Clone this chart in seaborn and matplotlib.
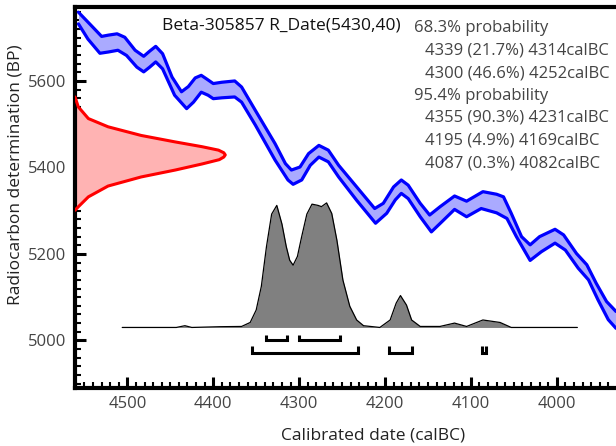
import numpy as np
import pandas as pd
import matplotlib
matplotlib.use("Agg")
import matplotlib.pyplot as plt
from matplotlib.ticker import MultipleLocator
import seaborn as sns

# ---------------- data ----------------
# calibration curve band: upper edge
upper_year = [4557, 4542, 4530, 4522, 4512, 4503, 4491, 4481, 4474, 4467, 4459,
              4448, 4437, 4429, 4421, 4414, 4408, 4400, 4390, 4375, 4367, 4351,
              4328, 4316, 4309, 4299, 4289, 4277, 4266, 4254, 4233, 4212, 4202,
              4190, 4181, 4173, 4159, 4148, 4136, 4119, 4105, 4086, 4070, 4062,
              4053, 4041, 4031, 4020, 4002, 3992, 3977, 3965, 3954, 3942, 3931]
upper_bp = [5759, 5728, 5703, 5706, 5709, 5701, 5671, 5657, 5669, 5680, 5663,
            5609, 5575, 5587, 5607, 5613, 5605, 5594, 5597, 5600, 5586, 5532,
            5455, 5409, 5394, 5401, 5432, 5451, 5440, 5405, 5355, 5305, 5317,
            5355, 5371, 5359, 5317, 5290, 5309, 5334, 5322, 5344, 5338, 5332,
            5294, 5240, 5221, 5240, 5257, 5244, 5201, 5175, 5132, 5090, 5067]
# calibration curve band: lower edge
lower_year = [4557, 4546, 4532, 4522, 4511, 4501, 4489, 4481, 4474, 4467, 4459,
              4445, 4431, 4423, 4414, 4406, 4400, 4390, 4375, 4367, 4351, 4328,
              4313, 4307, 4297, 4287, 4277, 4266, 4254, 4233, 4211, 4198, 4188,
              4181, 4173, 4159, 4146, 4134, 4119, 4105, 4088, 4070, 4058, 4047,
              4031, 4018, 4002, 3990, 3975, 3963, 3952, 3940, 3931]
lower_bp = [5732, 5697, 5664, 5667, 5671, 5659, 5632, 5621, 5632, 5644, 5628,
            5567, 5536, 5551, 5574, 5567, 5559, 5561, 5563, 5551, 5498, 5417,
            5371, 5361, 5371, 5405, 5424, 5413, 5378, 5324, 5271, 5294, 5325,
            5340, 5328, 5286, 5251, 5274, 5303, 5286, 5305, 5295, 5282, 5240,
            5185, 5205, 5225, 5209, 5167, 5140, 5094, 5048, 5028]

# radiocarbon measurement (relative density vs BP)
meas_bp = [5563, 5540, 5513, 5494, 5474, 5459, 5448, 5440, 5434, 5429, 5424,
           5418, 5408, 5394, 5378, 5357, 5332, 5309, 5301]
meas_dens = [0.0, 0.022, 0.089, 0.22, 0.44, 0.667, 0.845, 0.955, 0.99, 1.0,
             0.99, 0.96, 0.845, 0.667, 0.44, 0.22, 0.089, 0.022, 0.0]

# calibrated posterior (relative probability vs calBC)
post_year = [4506, 4443, 4433, 4425, 4392, 4367, 4357, 4350, 4344, 4338, 4332,
             4326, 4320, 4315, 4311, 4307, 4302, 4297, 4291, 4285, 4278, 4274,
             4268, 4262, 4256, 4249, 4241, 4233, 4225, 4206, 4194, 4187, 4182,
             4175, 4169, 4159, 4136, 4119, 4105, 4086, 4066, 4053, 3976]
post_prob = [0.0, 0.0, 0.014, 0.0, 0.006, 0.008, 0.04, 0.14, 0.33, 0.65, 0.91,
             0.98, 0.83, 0.65, 0.54, 0.50, 0.57, 0.73, 0.91, 0.99, 0.98, 0.97,
             1.0, 0.915, 0.70, 0.38, 0.17, 0.06, 0.014, 0.0, 0.06, 0.195, 0.256,
             0.18, 0.06, 0.008, 0.008, 0.035, 0.008, 0.06, 0.04, 0.0, 0.0]

# highest posterior density ranges
range68_start = [4339, 4300]
range68_end = [4314, 4252]
range95_start = [4355, 4195, 4087]
range95_end = [4231, 4169, 4082]

title_text = "Beta-305857 R_Date(5430,40)"
summary_lines = ["68.3% probability",
                 "4339 (21.7%) 4314calBC",
                 "4300 (46.6%) 4252calBC",
                 "95.4% probability",
                 "4355 (90.3%) 4231calBC",
                 "4195 (4.9%) 4169calBC",
                 "4087 (0.3%) 4082calBC"]
summary_indent = [False, True, True, False, True, True, True]

x_ticks = [4500, 4400, 4300, 4200, 4100, 4000]
y_ticks = [5000, 5200, 5400, 5600]

# ---------------- figure ----------------
sns.set_theme(style="white")
plt.rcParams["font.family"] = ["Open Sans", "DejaVu Sans"]

W, H = 616, 446
fig = plt.figure(figsize=(W / 100, H / 100), dpi=100)
ax_l, ax_r, ax_t, ax_b = 75, 616, 7, 388
ax = fig.add_axes([ax_l / W, 1 - ax_b / H, (ax_r - ax_l) / W, (ax_b - ax_t) / H])

XL, XR = 4561, 3931
YB, YT = 4890, 5771
ax.set_xlim(XL, XR)
ax.set_ylim(YB, YT)

# calibration band
yy = np.linspace(3931, 4557, 800)
up_i = np.interp(yy, upper_year[::-1], upper_bp[::-1])
lo_i = np.interp(yy, lower_year[::-1], lower_bp[::-1])
ax.fill_between(yy, lo_i, up_i, color="#aaaaff", lw=0, zorder=2)
band_df = pd.concat([
    pd.DataFrame({"year": upper_year, "bp": upper_bp, "edge": "upper"}),
    pd.DataFrame({"year": lower_year, "bp": lower_bp, "edge": "lower"}),
])
sns.lineplot(data=band_df, x="year", y="bp", units="edge", estimator=None,
             sort=False, color="#0000ff", lw=2.3, ax=ax, zorder=3,
             solid_joinstyle="round", solid_capstyle="round")

# measurement gaussian on the y axis
meas_scale = 175
mx = XL - np.array(meas_dens) * meas_scale
ax.fill_betweenx(meas_bp, XL, mx, color="#ffb3b3", lw=0, zorder=2)
sns.lineplot(x=mx, y=meas_bp, sort=False, color="#ff0000", lw=2.2, ax=ax,
             zorder=3, estimator=None, solid_joinstyle="round")

# posterior distribution
base_bp = 5030
post_scale = 288
py = base_bp + np.array(post_prob) * post_scale
ax.fill_between(post_year, base_bp, py, color="#808080", lw=0, zorder=4)
sns.lineplot(x=post_year, y=py, sort=False, color="black", lw=0.9, ax=ax,
             zorder=5, estimator=None, solid_joinstyle="round")

# range brackets
def brackets(starts, ends, y, h):
    for s, e in zip(starts, ends):
        ax.plot([s, s, e, e], [y + h, y, y, y + h], color="black", lw=2.2,
                solid_joinstyle="miter", solid_capstyle="butt", zorder=5)

brackets(range68_start, range68_end, 5000, 13)
brackets(range95_start, range95_end, 4972, 14)

# axes styling
ax.set_xticks(x_ticks)
ax.set_yticks(y_ticks)
ax.xaxis.set_minor_locator(MultipleLocator(10))
ax.yaxis.set_minor_locator(MultipleLocator(20))
ax.tick_params(which="both", direction="in", top=False, right=False,
               bottom=True, left=True, colors="black", labelcolor="#444444",
               labelsize=12)
ax.tick_params(which="major", length=8, width=2.2, pad=6)
ax.tick_params(which="minor", length=4, width=1.5)
for side in ["left", "bottom", "top"]:
    ax.spines[side].set_color("black")
    ax.spines[side].set_linewidth(3)
ax.spines["right"].set_visible(False)
ax.set_xlabel("")
ax.set_ylabel("")

fig.text(373 / W, 1 - 436 / H, "Calibrated date (calBC)", ha="center",
         va="center", fontsize=12.5, color="#222222")
fig.text(16 / W, 1 - 175 / H, "Radiocarbon determination (BP)", ha="center",
         va="center", rotation=90, fontsize=12.5, color="#222222")

fig.text(162 / W, 1 - 26 / H, title_text, ha="left", va="center",
         fontsize=12.5, color="#111111")
for i, (line, ind) in enumerate(zip(summary_lines, summary_indent)):
    x0 = 425 if ind else 414
    fig.text(x0 / W, 1 - (28 + 22.5 * i) / H, line, ha="left", va="center",
             fontsize=12, color="#444444")

fig.savefig("out.png", dpi=100)
